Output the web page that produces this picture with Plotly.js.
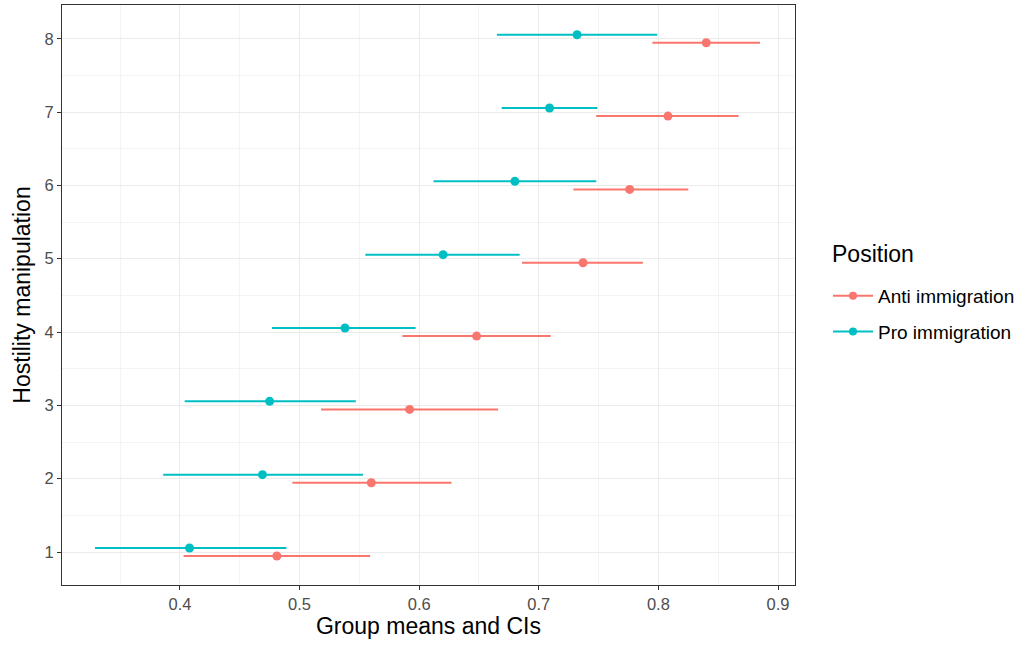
<!DOCTYPE html>
<html><head><meta charset="utf-8">
<script src="https://cdn.plot.ly/plotly-3.0.1.min.js"></script>
<style>html,body{margin:0;padding:0;background:#fff}</style>
</head><body>
<div id="chart" style="width:1014px;height:645px"></div>
<script>
const groups = [1,2,3,4,5,6,7,8];
const antiMean = [0.481, 0.560, 0.592, 0.648, 0.737, 0.776, 0.808, 0.840];
const antiLow  = [0.403, 0.494, 0.518, 0.586, 0.686, 0.729, 0.748, 0.795];
const antiHigh = [0.559, 0.627, 0.666, 0.710, 0.787, 0.825, 0.867, 0.885];
const proMean  = [0.408, 0.469, 0.475, 0.538, 0.620, 0.680, 0.709, 0.732];
const proLow   = [0.329, 0.386, 0.404, 0.477, 0.555, 0.612, 0.669, 0.665];
const proHigh  = [0.489, 0.553, 0.547, 0.597, 0.684, 0.748, 0.749, 0.799];
const seriesNames = ['Anti immigration', 'Pro immigration'];
const legendTitle = 'Position';
const colors = ['#F8766D', '#00BFC4'];
const dodge = 0.055;

function mk(mean, lo, hi, off, name, color) {
  return {
    type: 'scatter', mode: 'markers', name: name, showlegend: false,
    x: mean, y: groups.map(g => g + off),
    marker: {color: color, size: 9},
    error_x: {type: 'data', symmetric: false,
      array: mean.map((m, i) => hi[i] - m),
      arrayminus: mean.map((m, i) => m - lo[i]),
      color: color, thickness: 2, width: 0}
  };
}
const traces = [
  mk(antiMean, antiLow, antiHigh, -dodge, seriesNames[0], colors[0]),
  mk(proMean, proLow, proHigh, dodge, seriesNames[1], colors[1]),
  {type:'scatter', mode:'lines+markers', name: seriesNames[0], legendgroup:'a', x:[null], y:[null],
   line:{color:colors[0], width:2}, marker:{color:colors[0], size:8}},
  {type:'scatter', mode:'lines+markers', name: seriesNames[1], legendgroup:'b', x:[null], y:[null],
   line:{color:colors[1], width:2}, marker:{color:colors[1], size:8}}
];
const layout = {
  width: 1014, height: 645,
  margin: {l: 62, r: 219, t: 5, b: 60, autoexpand: false},
  paper_bgcolor: '#fff', plot_bgcolor: '#fff',
  font: {family: 'Liberation Sans, Arial, sans-serif', color: '#000'},
  xaxis: {
    range: [0.3014, 0.9142], dtick: 0.1, tick0: 0.4, tickformat: '.1f',
    showgrid: true, gridcolor: '#ebebeb', gridwidth: 1,
    minor: {dtick: 0.05, tick0: 0.35, showgrid: true, gridcolor: '#f4f4f4', gridwidth: 1, ticklen: 0},
    zeroline: false, showline: true, mirror: true, linecolor: '#333', linewidth: 1,
    ticks: 'outside', ticklen: 4, tickcolor: '#333',
    tickfont: {size: 16.5, color: '#4d4d4d'},
    title: {text: 'Group means and CIs', font: {size: 23, color: '#000'}, standoff: 5}
  },
  yaxis: {
    range: [0.55, 8.46], dtick: 1, tick0: 1,
    showgrid: true, gridcolor: '#ebebeb', gridwidth: 1,
    minor: {dtick: 0.5, tick0: 0.5, showgrid: true, gridcolor: '#f4f4f4', gridwidth: 1, ticklen: 0},
    zeroline: false, showline: true, mirror: true, linecolor: '#333', linewidth: 1,
    ticks: 'outside', ticklen: 4, tickcolor: '#333',
    tickfont: {size: 16.5, color: '#4d4d4d'},
    title: {text: 'Hostility manipulation', font: {size: 23, color: '#000'}, standoff: 7}
  },
  legend: {
    x: 1.045, xanchor: 'left', y: 0.531, yanchor: 'top',
    traceorder: 'grouped',
    font: {size: 19}, tracegroupgap: 8, itemwidth: 40
  },
  annotations: [{
    xref: 'paper', yref: 'paper', x: 1.0477, y: 0.5707, xanchor: 'left', yanchor: 'middle',
    text: legendTitle, showarrow: false, font: {size: 23, color: '#000'}
  }],
  showlegend: true
};
Plotly.newPlot('chart', traces, layout, {displayModeBar: false, staticPlot: true});
</script>
</body></html>
